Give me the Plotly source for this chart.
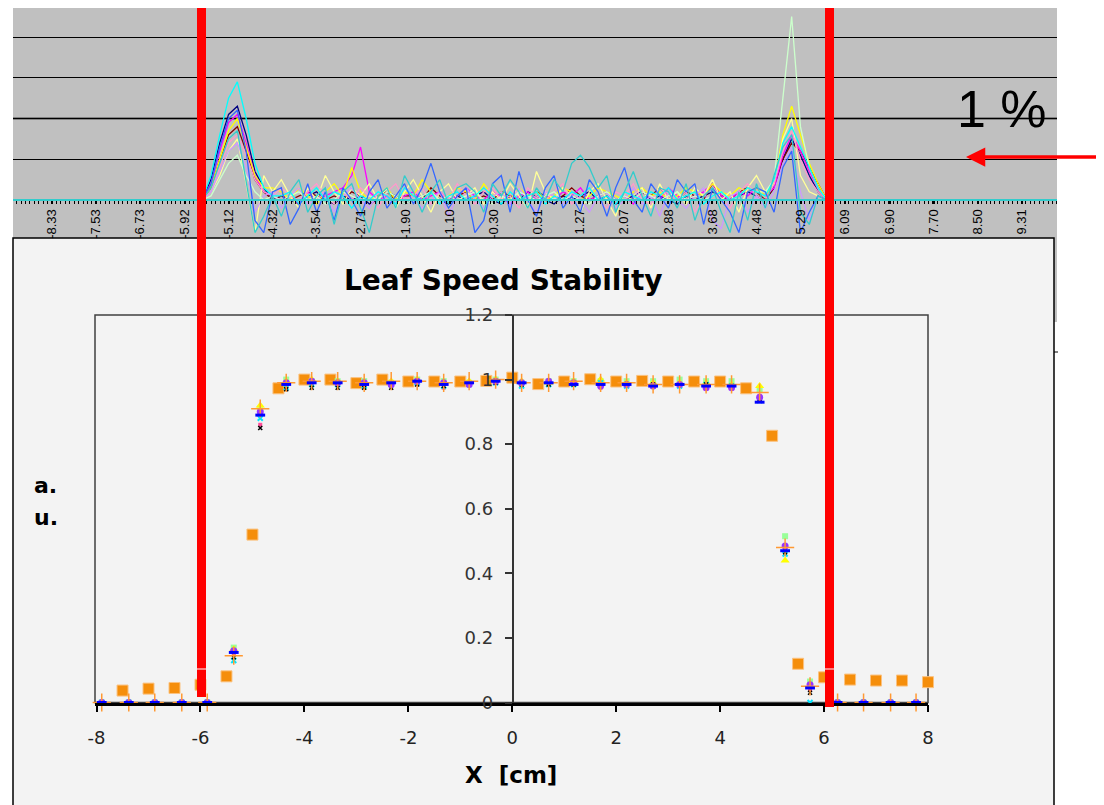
import plotly.graph_objects as go

# The page places the figure 8 px in from the top-left corner, so the figure is
# laid out in page pixels and converted with that offset.
PAGE_W, PAGE_H = 1104, 805
OFF = 8
W, H = PAGE_W - OFF, PAGE_H - OFF


def px(x):
    return (x - OFF) / W


def py(y):
    return 1 - (y - OFF) / H


# ---------------- top panel (differences, %) ----------------
top_x = [-5.60, -5.44, -5.28, -5.12, -4.96, -4.80, -4.64, -4.48, -4.32,
         -4.16, -4.00, -3.84, -3.68, -3.52, -3.36, -3.20, -3.04, -2.88, -2.72, -2.56,
         -2.40, -2.24, -2.08, -1.92, -1.76, -1.60, -1.44, -1.28, -1.12, -0.96, -0.80,
         -0.64, -0.48, -0.32, -0.16, 0.00, 0.16, 0.32, 0.48, 0.64, 0.80,
         0.96, 1.12, 1.28, 1.44, 1.60, 1.76, 1.92, 2.08, 2.24, 2.40, 2.56,
         2.72, 2.88, 3.04, 3.20, 3.36, 3.52, 3.68, 3.84, 4.00, 4.16, 4.32, 4.48,
         4.64, 4.80, 4.96, 5.12, 5.28, 5.44, 5.60, 5.76]

top_tick_vals = [-8.33, -7.53, -6.73, -5.92, -5.12, -4.32, -3.54, -2.71, -1.90, -1.10, -0.30,
                 0.51, 1.27, 2.07, 2.88, 3.68, 4.48, 5.29, 6.09, 6.90, 7.70, 8.50, 9.31]
top_tick_text = ["-8.33", "-7.53", "-6.73", "-5.92", "-5.12", "-4.32", "-3.54", "-2.71", "-1.90",
                 "-1.10", "-0.30", "0.51", "1.27", "2.07", "2.88", "3.68", "4.48", "5.29", "6.09",
                 "6.90", "7.70", "8.50", "9.31"]

navy_left = [0, 0.5, 1.4, 2.1, 2.3, 1.6, 0.7, 0.3, 0.0]
navy_mid = [0.1, 0.0, -0.1, 0.1, 0.2, 0.0, -0.1, 0.1, 0.0, 0.1, -0.1,
            0.0, 0.2, 0.1, -0.1, 0.0, 0.1, 0.2, 0.0, -0.1, 0.1, 0.0,
            0.1, 0.2, 0.0, -0.1, 0.1, 0.0, 0.2, 0.1, 0.0, -0.1, 0.1,
            0.0, 0.1, 0.2, 0.0, 0.1, -0.1, 0.0, 0.1, 0.2, 0.0, 0.1,
            0.0, -0.1, 0.1, 0.0, 0.1, 0.2, 0.1, 0.0, 0.1, 0.2, 0.1]
navy_right = [0, 0.3, 1.0, 1.5, 1.1, 0.6, 0.2, 0]

maroon_left = [0, 0.3, 1.0, 1.6, 1.8, 1.2, 0.5, 0.2, 0.0]
maroon_mid = [0.1, 0.0, 0.1, 0.2, 0.1, 0.0, 0.1, 0.0, 0.2, 0.1, 0.0,
              0.1, 0.2, 0.0, 0.1, 0.1, 0.0, 0.3, 0.1, 0.0, 0.1, 0.2,
              0.0, 0.1, 0.0, 0.2, 0.1, 0.0, 0.1, 0.2, 0.1, 0.0, 0.1,
              0.3, 0.1, 0.0, 0.1, 0.2, 0.0, 0.1, 0.0, 0.2, 0.1, 0.3,
              0.1, 0.0, 0.2, 0.1, 0.0, 0.4, 0.1, 0.0, 0.2, 0.3, 0.2]
maroon_right = [0, 0.3, 1.0, 1.4, 1.2, 0.8, 0.4, 0]

magenta_left = [0, 0.4, 1.2, 1.9, 2.1, 1.4, 0.6, 0.2, 0.1]
magenta_mid = [0.0, 0.1, -0.1, 0.2, 0.0, 0.1, 0.2, 0.3, 0.6, 1.3, 0.2,
               0.0, 0.1, -0.1, 0.1, 0.2, 0.0, 0.1, 0.2, 0.0, 0.1, 0.3,
               0.1, 0.0, 0.2, 0.1, -0.1, 0.1, 0.2, 0.0, 0.1, 0.0, 0.2,
               0.1, 0.3, 0.0, 0.1, 0.2, 0.0, 0.1, -0.1, 0.2, 0.1, 0.0,
               0.3, 0.1, 0.0, 0.1, 0.2, 0.4, 0.1, 0.0, 0.2, 0.1, 0.3]
magenta_right = [0.1, 0.3, 1.1, 1.6, 1.2, 0.7, 0.3, 0]

yellow_left = [0, 0.3, 1.0, 1.7, 2.0, 1.3, 0.6, 0.3, 0.3]
yellow_mid = [0.2, 0.0, 0.3, 0.1, -0.1, 0.2, 0.4, 0.1, 0.8, 0.2, 0.0,
              0.1, 0.3, 0.0, 0.2, 0.1, 0.5, 0.2, 0.0, 0.1, 0.3, 0.2,
              0.0, 0.4, 0.1, 0.2, 0.0, 0.3, 0.1, 0.2, 0.0, 0.1, 0.3,
              0.2, 0.0, 0.1, 0.3, 0.2, 0.1, 0.0, 0.2, 0.3, 0.1, 0.2,
              0.0, 0.1, 0.3, 0.2, 0.1, 0.4, 0.2, 0.1, 0.3, 0.2, 0.3]
yellow_right = [0.1, 0.4, 1.6, 2.3, 1.6, 0.9, 0.4, 0]

lightyellow_left = [0, 0.2, 0.6, 1.2, 1.5, 0.4, -0.8, 0.6, 0.2]
lightyellow_mid = [0.5, 0.1, -0.2, 0.3, 0.0, 0.6, 0.2, -0.1, 0.3, 0.1, 0.4,
                   0.0, 0.3, -0.2, 0.2, 0.5, 0.1, -0.3, 0.2, 0.4, 0.0, 0.1,
                   0.3, -0.1, 0.2, 0.0, 0.4, 0.1, -0.2, 0.7, 0.2, 0.0, 0.3,
                   0.1, -0.3, 0.2, 0.4, 0.0, -0.4, 0.2, 0.1, 0.3, -0.2, 0.4,
                   0.0, 0.2, -0.1, 0.3, 0.1, 0.5, 0.0, 0.2, -0.3, 0.3, 0.6]
lightyellow_right = [0.2, 0.4, 1.5, 2.0, 0.6, 0.2, 0.1, 0]

rose_left = [0, 0.2, 0.8, 1.4, 1.6, 1.1, 0.5, 0.2, 0.1]
rose_mid = [0.3, 0.1, 0.0, 0.2, 0.4, 0.1, -0.1, 0.2, 0.0, 0.3, 0.1,
            -0.2, 0.2, 0.4, 0.0, 0.1, 0.3, -0.1, 0.2, 0.0, 0.4, 0.1,
            -0.1, 0.2, 0.3, 0.0, 0.1, -0.2, 0.3, 0.1, 0.0, 0.2, 0.4,
            -0.1, 0.1, 0.3, 0.0, -0.2, 0.2, 0.1, 0.4, 0.0, -0.1, 0.3,
            0.1, 0.0, 0.2, -0.3, 0.1, 0.3, 0.0, -0.2, 0.2, 0.4, 0.1]
rose_right = [0, 0.4, 1.2, 1.7, 1.0, 0.5, 0.2, 0]

lavender_left = [0, 0.2, 0.7, 1.2, 1.4, 0.8, -0.3, 0.1, 0.2]
lavender_mid = [-0.2, 0.1, 0.3, -0.1, 0.0, 0.2, -0.3, 0.1, 0.3, 0.0, -0.2,
                0.2, 0.0, -0.1, 0.3, 0.1, -0.2, 0.0, 0.2, -0.4, 0.1, 0.3,
                0.0, -0.2, 0.1, 0.2, -0.1, 0.3, 0.0, -0.3, 0.2, 0.1, -0.1,
                0.2, 0.0, -0.3, 0.1, 0.2, -0.2, 0.0, 0.3, -0.1, 0.1, -0.4,
                0.2, 0.0, -0.2, 0.1, 0.3, -0.5, -0.7, 0.1, 0.2, -0.3, 0.1]
lavender_right = [-0.2, 0.2, 0.9, 1.3, 0.2, -0.5, 0.1, 0]

lightgreen_left = [0, 0.1, 0.5, 0.9, 1.1, 0.6, 0.2, 0.0, 0.1]
lightgreen_mid = [0.0, 0.1, 0.2, 0.0, 0.1, -0.1, 0.0, 0.2, 0.1, 0.0, 0.1,
                  0.0, 0.2, 0.1, -0.1, 0.0, 0.1, 0.2, 0.0, 0.1, 0.0, 0.1,
                  0.2, 0.0, -0.1, 0.1, 0.0, 0.2, 0.1, 0.0, 0.1, 0.2, 0.0,
                  0.1, 0.0, -0.1, 0.1, 0.2, 0.0, 0.1, 0.0, 0.2, 0.1, 0.0,
                  0.1, 0.2, 0.0, 0.1, 0.0, 0.1, 0.2, 0.0, 0.1, 0.3, 0.2]
lightgreen_right = [0.2, 0.5, 2.5, 4.5, 1.8, 0.8, 0.3, 0]

cyan_left = [0, 0.6, 1.6, 2.5, 2.9, 2.0, 0.9, 0.3, 0.1]
cyan_mid = [0.1, 0.2, -0.1, 0.1, 0.3, 0.0, 0.2, 0.1, -0.2, 0.1, 0.0,
            0.2, 0.1, -0.1, 0.3, 0.1, 0.0, 0.2, -0.1, 0.1, 0.2, 0.0,
            0.1, 0.3, 0.1, -0.1, 0.2, 0.0, 0.1, 0.2, -0.1, 0.1, 0.0,
            0.2, 0.1, 0.3, 0.0, 0.1, -0.1, 0.2, 0.1, 0.0, 0.2, 0.1,
            0.3, 0.0, 0.1, 0.2, -0.1, 0.1, 0.2, 0.0, 0.1, 0.3, 0.2]
cyan_right = [0.1, 0.5, 1.4, 1.8, 1.3, 0.8, 0.3, 0]

blue_left = [0, 0.4, 1.3, 2.0, 2.2, 1.2, -0.5, -0.8, 0.2]
blue_mid = [0.3, -0.6, -0.2, 0.4, -0.3, 0.2, -0.5, 0.3, 0.0, -0.4, 0.2,
            0.5, -0.2, 0.1, 0.4, -0.1, 0.3, 0.9, 0.2, -0.2, 0.1, 0.3,
            -0.8, -0.5, 0.4, 0.6, -0.3, 0.7, 0.0, -0.4, 0.3, 0.6, -0.2,
            0.1, -0.3, 0.5, 0.2, -0.4, 0.3, 0.8, 0.0, -0.3, 0.4, 0.1,
            -0.2, 0.5, 0.2, 0.4, -0.6, 0.3, 0.0, -0.3, -0.8, 0.2, 0.3]
blue_right = [0.2, -0.3, 0.8, 1.2, -0.8, -0.3, 0.1, 0]

aqua_left = [0, 0.3, 0.9, 1.5, 1.7, 0.5, -0.8, -0.4, 0.1]
aqua_mid = [-0.4, 0.2, 0.5, -0.3, 0.1, 0.3, -0.6, 0.2, 0.4, -0.2, -0.8,
            0.1, 0.3, -0.2, 0.6, 0.2, -0.3, 0.2, 0.5, -0.1, 0.3, 0.4,
            0.2, -0.3, 0.4, 0.1, 0.5, 0.2, -0.2, 0.3, 0.0, 0.5, 0.2,
            0.9, 1.1, 0.8, 0.3, 0.6, -0.3, 0.2, 0.7, 0.1, -0.4, 0.3,
            0.2, -0.2, 0.4, -0.5, 0.1, 0.3, -0.3, -0.8, 0.2, -0.5, 0.4]
aqua_right = [-0.2, 0.6, 1.3, 1.6, -0.3, -0.6, 0.1, 0]

top_series = [
    ("navy", navy_left, navy_mid, navy_right),
    ("maroon", maroon_left, maroon_mid, maroon_right),
    ("magenta", magenta_left, magenta_mid, magenta_right),
    ("yellow", yellow_left, yellow_mid, yellow_right),
    ("lightyellow", lightyellow_left, lightyellow_mid, lightyellow_right),
    ("rose", rose_left, rose_mid, rose_right),
    ("lavender", lavender_left, lavender_mid, lavender_right),
    ("lightgreen", lightgreen_left, lightgreen_mid, lightgreen_right),
    ("cyan", cyan_left, cyan_mid, cyan_right),
    ("blue", blue_left, blue_mid, blue_right),
    ("aqua", aqua_left, aqua_mid, aqua_right),
]
top_colors = {"navy": "#000080", "maroon": "#800000", "magenta": "#FF00FF", "yellow": "#FFFF00",
              "lightyellow": "#FFFF99", "rose": "#FF99CC", "lavender": "#CC99FF",
              "lightgreen": "#CCFFCC", "cyan": "#00FFFF", "blue": "#3366FF", "aqua": "#33CCCC"}

# ---------------- lower panel (profiles) ----------------
orange_x = [-7.5, -7.0, -6.5, -6.0, -5.5, -5.0, -4.5, -4.0, -3.5, -3.0, -2.5, -2.0, -1.5, -1.0,
            -0.5, 0.0, 0.5, 1.0, 1.5, 2.0, 2.5, 3.0, 3.5, 4.0, 4.5, 5.0, 5.5, 6.0, 6.5, 7.0,
            7.5, 8.0]
orange_y = [0.037, 0.043, 0.045, 0.055, 0.081, 0.52, 0.973, 1.0, 1.0, 0.989, 1.0, 0.994, 0.994,
            0.994, 0.996, 1.006, 0.986, 0.994, 1.001, 0.994, 0.996, 0.994, 0.994, 0.994, 0.973,
            0.826, 0.12, 0.078, 0.071, 0.068, 0.068, 0.063]

prof_x = [-7.90, -7.38, -6.88, -6.36, -5.87, -5.36, -4.85, -4.35, -3.86, -3.36, -2.85, -2.33,
          -1.83, -1.32, -0.83, -0.32, 0.18, 0.70, 1.18, 1.70, 2.20, 2.71, 3.22, 3.73, 4.22,
          4.76, 5.25, 5.73, 6.26, 6.76, 7.28, 7.77]
green_y = [0, 0, 0, 0, 0, 0.17, 0.905, 1.0, 0.995, 0.995, 0.995, 0.99, 1.0, 0.995, 0.99, 1.0,
           0.99, 0.995, 0.995, 0.995, 0.995, 0.995, 1.0, 0.995, 0.995, 0.97, 0.515, 0.065,
           0, 0, 0, 0]
yellow_tri_y = [0, 0, 0, 0, 0, 0.165, 0.92, 0.995, 1.0, 0.995, 0.99, 0.995, 1.0, 0.99, 0.995,
                1.0, 0.995, 0.99, 0.995, 1.0, 0.99, 0.99, 0.99, 0.99, 0.985, 0.98, 0.44, 0.05,
                0, 0, 0, 0]
pink_y = [0, 0, 0, 0, 0, 0.15, 0.86, 0.98, 0.99, 0.985, 0.985, 0.98, 0.99, 0.975, 0.985, 0.99,
          0.985, 0.99, 0.99, 0.975, 0.985, 0.985, 0.985, 0.98, 0.975, 0.95, 0.475, 0.04,
          0, 0, 0, 0]
cyan_x_y = [0, 0, 0, 0, 0, 0.13, 0.88, 0.975, 0.985, 0.985, 0.98, 0.985, 0.99, 0.98, 0.985,
            0.99, 0.98, 0.985, 0.985, 0.99, 0.98, 0.98, 0.98, 0.985, 0.98, 0.935, 0.46, 0.0,
            0, 0, 0, 0]
black_y = [0, 0, 0, 0, 0, 0.14, 0.85, 0.97, 0.975, 0.975, 0.975, 0.975, 0.985, 0.98, 0.985,
           0.99, 0.985, 0.985, 0.985, 0.985, 0.985, 0.985, 0.985, 0.985, 0.98, 0.94, 0.465,
           0.03, 0, 0, 0, 0]
purple_y = [0, 0, 0, 0, 0, 0.16, 0.90, 0.99, 0.995, 0.99, 0.99, 0.985, 0.995, 0.99, 0.985,
            0.995, 0.99, 0.995, 0.99, 0.98, 0.985, 0.98, 0.985, 0.975, 0.975, 0.945, 0.485,
            0.055, 0, 0, 0, 0]
plus_y = [0, 0, 0, 0, 0, 0.145, 0.91, 0.99, 0.995, 0.995, 0.99, 0.995, 0.995, 0.99, 0.995,
          1.0, 0.99, 0.99, 0.995, 0.99, 0.99, 0.985, 0.985, 0.985, 0.985, 0.96, 0.48, 0.05,
          0, 0, 0, 0]
blue_dash_y = [0, 0, 0, 0, 0, 0.155, 0.89, 0.985, 0.99, 0.99, 0.985, 0.99, 0.995, 0.985, 0.99,
               0.995, 0.99, 0.99, 0.985, 0.985, 0.985, 0.98, 0.985, 0.98, 0.98, 0.93, 0.47,
               0.045, 0, 0, 0, 0]

x_ticks = [-8, -6, -4, -2, 0, 2, 4, 6, 8]
x_tick_text = ["-8", "-6", "-4", "-2", "0", "2", "4", "6", "8"]
y_ticks = [0, 0.2, 0.4, 0.6, 0.8, 1.0, 1.2]
y_tick_text = ["0", "0.2", "0.4", "0.6", "0.8", "1", "1.2"]

for name, l, m, r in top_series:
    assert len(l) + len(m) + len(r) == len(top_x), name
for arr in [green_y, yellow_tri_y, pink_y, cyan_x_y, black_y, purple_y, plus_y, blue_dash_y]:
    assert len(arr) == len(prof_x)
assert len(orange_x) == len(orange_y)

fig = go.Figure()

# top traces
for name, l, m, r in top_series:
    fig.add_trace(go.Scatter(x=top_x, y=l + m + r, mode="lines", xaxis="x2", yaxis="y2",
                             line=dict(color=top_colors[name], width=1.3), hoverinfo="skip"))

# lower traces
fig.add_trace(go.Scatter(x=orange_x, y=orange_y, mode="markers", cliponaxis=False,
                         marker=dict(symbol="square", size=11, color="#F58E0B",
                                     line=dict(color="#FBC27F", width=1))))
lower_styles = [
    (green_y, dict(symbol="square", size=6, color="#99FF99", line=dict(width=0))),
    (yellow_tri_y, dict(symbol="triangle-up", size=8, color="#FFFF00", line=dict(width=0))),
    (pink_y, dict(symbol="square", size=4, color="#FF4F9A", line=dict(width=0))),
    (cyan_x_y, dict(symbol="x-thin", size=5, color="#00FFFF", line=dict(color="#00E5FF", width=2))),
    (black_y, dict(symbol="x-thin", size=4, color="#000000", line=dict(color="#000000", width=1.5))),
    (purple_y, dict(symbol="circle", size=7, color="#9933FF", line=dict(width=0))),
    (plus_y, dict(symbol="cross-thin", size=13, color="#FF9933", line=dict(color="#FF9933", width=1.5))),
    (blue_dash_y, dict(symbol="line-ew", size=7, color="#0000FF", line=dict(color="#0000FF", width=3))),
]
for ys, mk in lower_styles:
    fig.add_trace(go.Scatter(x=prof_x, y=ys, mode="markers", cliponaxis=False, marker=mk))

shapes = [
    # gray top panel
    dict(type="rect", xref="paper", yref="paper", x0=px(13), x1=px(1057), y0=py(322), y1=1.0,
         fillcolor="#C0C0C0", line=dict(width=0), layer="below"),
    # lower chart box
    dict(type="rect", xref="paper", yref="paper", x0=px(13), x1=px(1054), y0=py(808), y1=py(238),
         fillcolor="#F3F3F3", line=dict(color="black", width=1.5), layer="below"),
    # plot area border
    dict(type="rect", xref="paper", yref="paper", x0=px(95), x1=px(928), y0=py(702.5), y1=py(315),
         fillcolor="rgba(0,0,0,0)", line=dict(color="#404040", width=1.5), layer="below"),
    dict(type="line", xref="paper", yref="paper", x0=px(1054), x1=px(1058), y0=py(352), y1=py(352),
         line=dict(color="black", width=1)),
    # thicker 2nd gridline
    dict(type="line", xref="paper", yref="y2", x0=px(13), x1=px(1057), y0=2, y1=2,
         line=dict(color="#6E6E6E", width=2.5), layer="between"),
    # red marker lines
    dict(type="rect", xref="paper", yref="paper", x0=px(197), x1=px(206), y0=py(697), y1=1.0,
         fillcolor="#FF0000", line=dict(width=0), layer="above"),
    dict(type="rect", xref="paper", yref="paper", x0=px(825), x1=px(834), y0=py(707), y1=1.0,
         fillcolor="#FF0000", line=dict(width=0), layer="above"),
    dict(type="line", xref="paper", yref="paper", x0=px(197), x1=px(206), y0=py(669), y1=py(669),
         line=dict(color="white", width=1), layer="above"),
    dict(type="line", xref="paper", yref="paper", x0=px(825), x1=px(834), y0=py(669), y1=py(669),
         line=dict(color="white", width=1), layer="above"),
]

bold = "DejaVu Sans"
annotations = [
    dict(text="<b>Leaf Speed Stability</b>", x=px(503.5), y=py(280), xref="paper", yref="paper",
         showarrow=False, font=dict(family=bold, size=28, color="black"),
         xanchor="center", yanchor="middle"),
    dict(text="<b>a.</b>", x=px(32), y=py(485), xref="paper", yref="paper", showarrow=False,
         font=dict(family=bold, size=22, color="black"), xanchor="left", yanchor="middle"),
    dict(text="<b>u.</b>", x=px(32), y=py(517), xref="paper", yref="paper", showarrow=False,
         font=dict(family=bold, size=22, color="black"), xanchor="left", yanchor="middle"),
    dict(text="<b>X  [cm]</b>", x=px(511), y=py(775), xref="paper", yref="paper", showarrow=False,
         font=dict(family=bold, size=23, color="black"), xanchor="center", yanchor="middle"),
    dict(text="1 %", x=px(1002), y=py(109), xref="paper", yref="paper", showarrow=False,
         font=dict(family="Liberation Sans, Arial", size=52, color="black"),
         xanchor="center", yanchor="middle"),
    dict(text="", x=px(966), y=py(157), xref="paper", yref="paper", showarrow=True,
         ax=134, ay=0, axref="pixel", ayref="pixel",
         arrowhead=2, arrowsize=1.1, arrowwidth=3.5, arrowcolor="#FF0000"),
]

# top panel spans page y 5..238 with baseline (0 %) at y=200, 40.75 px per unit;
# its visible top is clipped at page y=8.
top_range_hi = (200 - 8) / 40.75
top_range_lo = -(238 - 200) / 40.75

fig.update_layout(
    width=W, height=H, margin=dict(l=0, r=0, t=0, b=0, pad=0, autoexpand=False),
    paper_bgcolor="white", plot_bgcolor="rgba(0,0,0,0)", showlegend=False,
    shapes=shapes, annotations=annotations,
    xaxis=dict(domain=[px(95), px(928)], range=[-8.03, 8.0], anchor="y",
               tickmode="array", tickvals=x_ticks, ticktext=x_tick_text, ticks="outside",
               ticklen=7, tickwidth=1.5,
               tickcolor="black", showline=True, linecolor="black", linewidth=2.5,
               showgrid=False, zeroline=False, ticklabelstandoff=10,
               tickfont=dict(family="DejaVu Sans", size=18, color="#222")),
    yaxis=dict(domain=[py(702.5), py(315)], range=[0, 1.2], anchor="free", position=px(512.7),
               tickmode="array", tickvals=y_ticks, ticktext=y_tick_text, ticks="outside",
               ticklen=7, tickwidth=1.5, tickcolor="#333", showline=True, linecolor="#333",
               linewidth=2, showgrid=False, zeroline=False, ticklabelstandoff=8,
               tickfont=dict(family="DejaVu Sans", size=18, color="#333")),
    xaxis2=dict(domain=[px(13), px(1057)], range=[-9.04, 9.945], anchor="free", position=py(200),
                side="bottom", tickmode="array", tickvals=top_tick_vals, ticktext=top_tick_text,
                tickangle=-90, ticks="outside", ticklen=3, tickcolor="black", tickwidth=1.5,
                minor=dict(tickmode="linear", tick0=-8.33, dtick=0.0805, ticks="outside",
                           ticklen=3, tickcolor="black", tickwidth=1.2),
                showline=True, linecolor="#33CCCC", linewidth=2, showgrid=False, zeroline=False,
                tickfont=dict(family="Liberation Sans, Arial", size=13, color="black")),
    yaxis2=dict(domain=[py(238), 1.0], range=[top_range_lo, top_range_hi], anchor="x2",
                tickmode="array", tickvals=[1, 2, 3, 4], showticklabels=False, ticks="",
                showgrid=True, gridcolor="black", gridwidth=1, zeroline=False, showline=False),
)

fig.write_html("out.html")
